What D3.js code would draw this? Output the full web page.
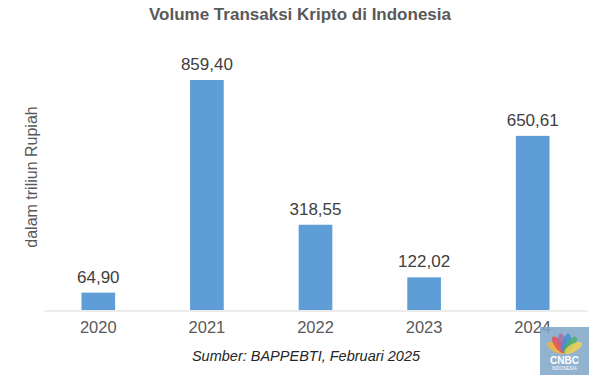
<!DOCTYPE html>
<html><head><meta charset="utf-8">
<script src="https://cdn.jsdelivr.net/npm/d3@7"></script>
<style>body{margin:0;background:#fff;} svg{display:block;font-family:"Liberation Sans",Arial,sans-serif;}</style>
</head><body>
<script>
const categories = ["2020","2021","2022","2023","2024"];
const values = [64.90, 859.40, 318.55, 122.02, 650.61];
const valueLabels = ["64,90","859,40","318,55","122,02","650,61"];
const title = "Volume Transaksi Kripto di Indonesia";
const yLabel = "dalam triliun Rupiah";
const source = "Sumber: BAPPEBTI, Februari 2025";

const W = 602, H = 377;
const svg = d3.select("body").append("svg").attr("width", W).attr("height", H);

const x = d3.scaleBand().domain(categories).range([44, 587]).paddingInner(0.69).paddingOuter(0.345);
const y = d3.scaleLinear().domain([0, 859.4]).range([310, 80]);

svg.append("text").attr("x", 300).attr("y", 20).attr("text-anchor", "middle")
  .attr("font-size", 17).attr("font-weight", "bold").attr("fill", "#595959").text(title);

svg.append("text").attr("transform", "translate(37,177) rotate(-90)").attr("text-anchor", "middle")
  .attr("font-size", 16).attr("fill", "#595959").text(yLabel);

svg.selectAll("rect.bar").data(values).enter().append("rect").attr("class","bar")
  .attr("x", (d,i) => x(categories[i])).attr("width", x.bandwidth())
  .attr("y", d => y(d)).attr("height", d => y(0) - y(d)).attr("fill", "#5e9dd6");

svg.selectAll("text.val").data(values).enter().append("text").attr("class","val")
  .attr("x", (d,i) => x(categories[i]) + x.bandwidth()/2).attr("y", d => y(d) - 10)
  .attr("text-anchor", "middle").attr("font-size", 17).attr("fill", "#404040")
  .text((d,i) => valueLabels[i]);

const xAxis = svg.append("g").attr("transform", "translate(0,310.5)")
  .call(d3.axisBottom(x).tickSize(0).tickPadding(11));
xAxis.select(".domain").attr("stroke", "#d9d9d9").attr("stroke-width", 1.2);
xAxis.selectAll("text").attr("font-size", 16.5).attr("fill", "#595959").attr("font-family", "Liberation Sans, Arial, sans-serif");

svg.append("text").attr("x", 306).attr("y", 361).attr("text-anchor", "middle")
  .attr("font-size", 14.5).attr("font-style", "italic").attr("fill", "#262626").text(source);

// CNBC Indonesia watermark
const logo = svg.append("g").attr("transform", "translate(540,327)");
logo.append("rect").attr("width", 49).attr("height", 48).attr("fill", "#7fa6c8").attr("opacity", 0.85);
const fc = ["#f6b434","#ef4a4e","#a66ba8","#3f8ed0","#47b06a","#f7d34a"];
fc.forEach((c,i) => {
  const a = -150 + i*24;
  logo.append("ellipse").attr("cx", 24.5).attr("cy", 22).attr("rx", 4).attr("ry", 10)
    .attr("fill", c).attr("opacity", 0.8)
    .attr("transform", `rotate(${a+90},24.5,26) translate(0,-6)`);
});
logo.append("text").attr("x", 24.5).attr("y", 37).attr("text-anchor","middle").attr("font-size", 10)
  .attr("font-weight","bold").attr("fill","#fff").text("CNBC");
logo.append("text").attr("x", 24.5).attr("y", 43).attr("text-anchor","middle").attr("font-size", 4.5)
  .attr("fill","#fff").text("INDONESIA");
</script>
</body></html>
